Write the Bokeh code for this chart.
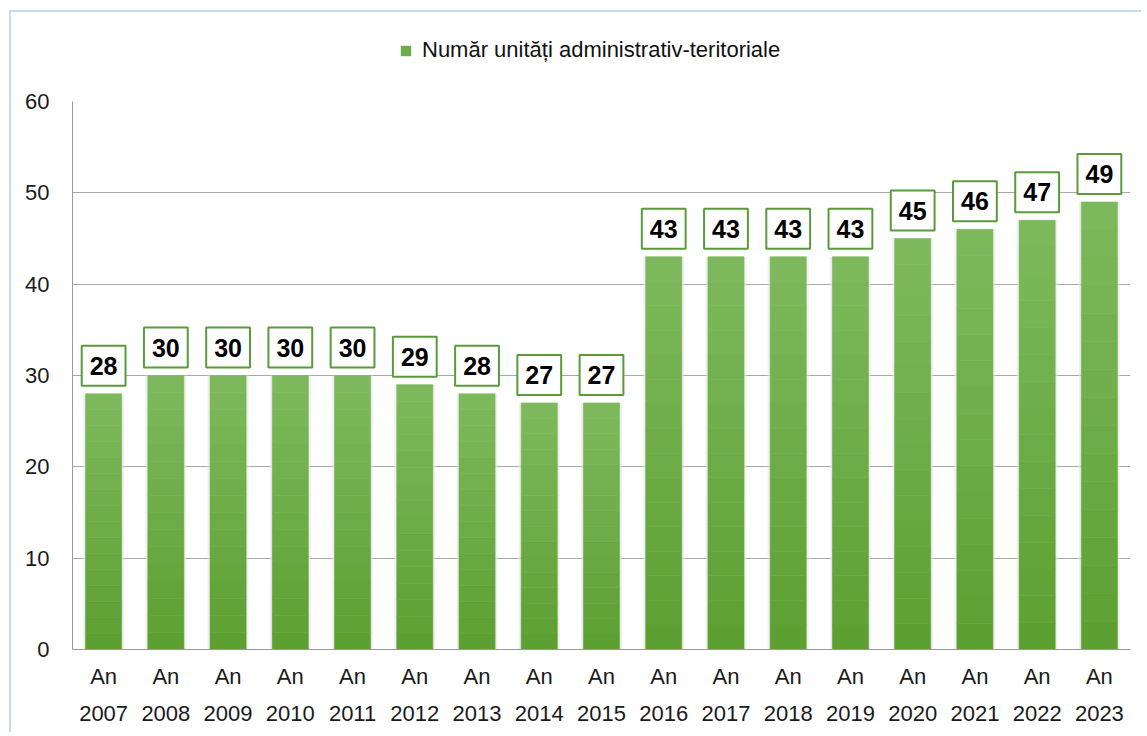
from bokeh.plotting import figure
from bokeh.layouts import column
from bokeh.models import (ColumnDataSource, FactorRange, Range1d, FixedTicker,
                          Label, Legend, LegendItem)
from bokeh.embed import file_html
from bokeh.resources import INLINE

years = ["2007", "2008", "2009", "2010", "2011", "2012", "2013", "2014", "2015",
         "2016", "2017", "2018", "2019", "2020", "2021", "2022", "2023"]
tick_prefix = "An"
values = [28, 30, 30, 30, 30, 29, 28, 27, 27, 43, 43, 43, 43, 45, 46, 47, 49]
series_name = "Număr unități administrativ-teritoriale"
y_ticks = [0, 10, 20, 30, 40, 50, 60]

factors = [(y, tick_prefix) for y in years]

bot_c = (0x5c, 0x9f, 0x31)
top_c = (0x7e, 0xba, 0x5d)
legend_color = "#6dac47"

# ---- legend strip ----
lf = figure(width=1130, height=75, output_backend="svg", toolbar_location=None,
            x_range=Range1d(0, 1), y_range=Range1d(0, 1),
            min_border=0, x_axis_location=None, y_axis_location=None)
lf.outline_line_color = None
lf.grid.grid_line_color = None
lf.border_fill_color = "white"
dummy = lf.vbar(x=[5], top=[6], bottom=[5], width=0.5, fill_color=legend_color, line_color=None)
legend = Legend(items=[LegendItem(label=series_name, renderers=[dummy])],
                location=(327, 24), orientation="horizontal",
                label_text_font="Liberation Sans", label_text_font_size="22px",
                label_text_color="#111111", glyph_width=13, glyph_height=13,
                border_line_color=None, background_fill_alpha=0, padding=4, margin=0,
                spacing=0, label_standoff=10)
lf.add_layout(legend, "center")

# ---- main chart ----
p = figure(x_range=FactorRange(*factors, range_padding=0, group_padding=0, factor_padding=0),
           y_range=Range1d(0, 60),
           width=1130, height=645, output_backend="svg", toolbar_location=None,
           min_border_left=61, min_border_right=11, min_border_top=14, min_border_bottom=83)
p.outline_line_color = None
p.background_fill_color = "white"
p.border_fill_color = "white"

# soft shadow
p.vbar(x=factors, top=values, width=0.66, fill_color="#e6e6e6", line_color=None, fill_alpha=0.6)

# gradient bars built from slices
n = 16
for i in range(n):
    t = (i + 0.5) / n
    c = "#%02x%02x%02x" % tuple(int(round(b + (a - b) * t)) for a, b in zip(top_c, bot_c))
    src = ColumnDataSource(dict(x=factors,
                                bottom=[v * i / n for v in values],
                                top=[v * (i + 1) / n for v in values]))
    p.vbar(x="x", bottom="bottom", top="top", width=0.58, source=src,
           fill_color=c, line_color=c, line_width=0.6)

# value labels (factor k sits at synthetic coordinate k + 0.5)
for k, v in enumerate(values):
    p.add_layout(Label(x=k + 0.5, y=v, text=str(v), y_offset=8,
                       text_align="center", text_baseline="bottom",
                       text_font="Liberation Sans", text_font_style="bold",
                       text_font_size="25px", text_color="black",
                       background_fill_color="white", border_line_color="#5a9a3a",
                       border_line_width=2, padding=(8, 11)))

p.yaxis.ticker = FixedTicker(ticks=y_ticks)
p.yaxis.major_tick_line_color = None
p.yaxis.major_tick_out = 0
p.yaxis.minor_tick_line_color = None
p.yaxis.major_label_standoff = 23
p.yaxis.major_label_text_font = "Liberation Sans"
p.yaxis.major_label_text_font_size = "22px"
p.yaxis.major_label_text_color = "#1a1a1a"
p.yaxis.axis_line_color = "#9a9a9a"

xa = p.xaxis[0]
xa.major_tick_line_color = None
xa.major_tick_out = 0
xa.major_label_standoff = 14
xa.axis_line_color = "#9a9a9a"
xa.separator_line_color = None
xa.major_label_text_font = "Liberation Sans"
xa.major_label_text_font_size = "22px"
xa.major_label_text_color = "#1a1a1a"
xa.group_text_font = "Liberation Sans"
xa.group_text_font_size = "22px"
xa.group_text_font_style = "normal"
xa.group_text_color = "#1a1a1a"

p.xgrid.grid_line_color = None
p.ygrid.grid_line_color = "#a8a8a8"
p.ygrid.grid_line_width = 1

layout = column(lf, p, spacing=0,
                styles={"border-left": "2px solid #c9dbee", "border-top": "2px solid #c9dbee",
                        "margin-left": "9px", "margin-top": "10px"})

open("out.html", "w").write(file_html(layout, INLINE))
